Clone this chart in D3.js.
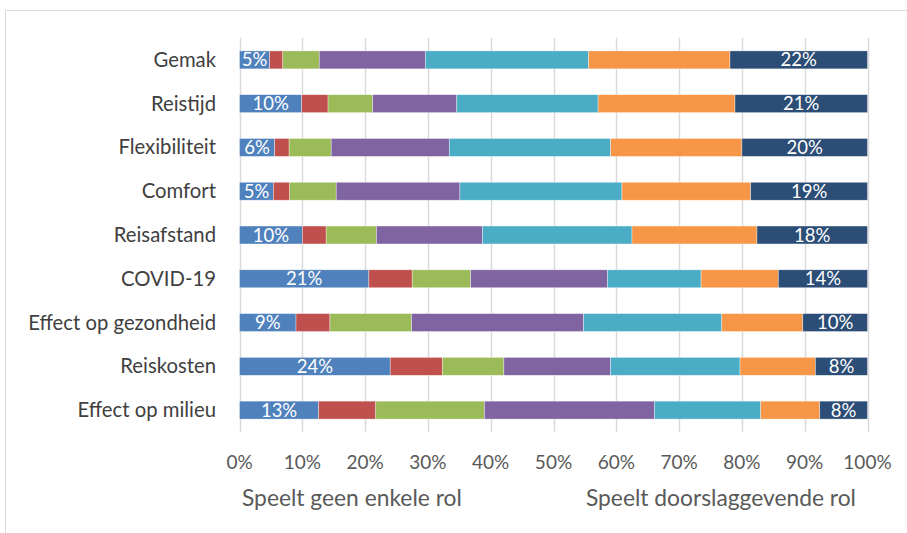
<!DOCTYPE html>
<html>
<head>
<meta charset="utf-8">
<script src="https://cdn.jsdelivr.net/npm/d3@7"></script>
<style>
  body { margin: 0; background: #fff; }
  svg { font-family: Lato, "Open Sans", sans-serif; }
</style>
</head>
<body>
<svg id="chart"></svg>
<script>
// categories top to bottom
let categories = ['Gemak', 'Reistijd', 'Flexibiliteit', 'Comfort', 'Reisafstand',
  'COVID-19', 'Effect op gezondheid', 'Reiskosten', 'Effect op milieu']
// answer scale 1 (geen rol) .. 7 (doorslaggevend), percentages per category
let s1 = [4.8, 9.9, 5.6, 5.4, 10.0, 20.6, 9.0, 24.0, 12.6]
let s2 = [2.1, 4.2, 2.3, 2.6, 3.8, 6.9, 5.4, 8.3, 9.1]
let s3 = [5.8, 7.1, 6.7, 7.4, 8.0, 9.3, 13.0, 9.8, 17.3]
let s4 = [16.9, 13.4, 18.8, 19.7, 16.9, 21.8, 27.4, 17.0, 27.1]
let s5 = [26.0, 22.5, 25.7, 25.8, 23.8, 14.9, 22.0, 20.6, 16.9]
let s6 = [22.5, 21.8, 20.9, 20.5, 19.9, 12.3, 12.9, 12.0, 9.4]
let s7 = [21.9, 21.1, 20.0, 18.6, 17.6, 14.2, 10.3, 8.3, 7.6]
let seriesKeys = ['1', '2', '3', '4', '5', '6', '7']
let seriesValues = [s1, s2, s3, s4, s5, s6, s7]
let ticks = [0, 0.1, 0.2, 0.3, 0.4, 0.5, 0.6, 0.7, 0.8, 0.9, 1]
let leftTitle = 'Speelt geen enkele rol'
let rightTitle = 'Speelt doorslaggevende rol'

let colors = ['#4f81bd', '#c0504d', '#9bbb59', '#8064a2', '#4bacc6', '#f79646', '#2c4d75']
let labelled = ['1', '7']

let width = 907
let height = 533
let svg = d3.select('#chart')
  .attr('width', width)
  .attr('height', height)

// chart frame
svg.append('rect')
  .attr('x', 5.5).attr('y', 10.5)
  .attr('width', width + 10).attr('height', height + 10)
  .attr('fill', 'none')
  .attr('stroke', '#d9d9d9')

let table = categories.map((c, i) => {
  let row = { category: c }
  seriesKeys.forEach((k, j) => { row[k] = seriesValues[j][i] })
  return row
})

let stacked = d3.stack()
  .keys(seriesKeys)
  .offset(d3.stackOffsetExpand)(table)

let x = d3.scaleLinear().domain([0, 1]).range([239.5, 867.5])
let y = d3.scaleBand().domain(categories).range([38, 432]).paddingInner(0.59).paddingOuter(0.295)

// gridlines
svg.append('g')
  .selectAll('line')
  .data(ticks)
  .enter()
  .append('line')
  .attr('x1', (d) => Math.round(x(d)) + 0.5)
  .attr('x2', (d) => Math.round(x(d)) + 0.5)
  .attr('y1', 38)
  .attr('y2', 432)
  .attr('stroke', '#d9d9d9')
  .attr('stroke-width', 1.5)

let layers = svg.append('g')
  .selectAll('g')
  .data(stacked)
  .enter()
  .append('g')
  .attr('fill', (d, i) => colors[i])

layers.selectAll('rect')
  .data((d) => d)
  .enter()
  .append('rect')
  .attr('x', (d) => x(d[0]))
  .attr('y', (d) => y(d.data.category))
  .attr('width', (d) => x(d[1]) - x(d[0]))
  .attr('height', y.bandwidth())
  .attr('stroke', 'rgba(255,255,255,0.6)')
  .attr('stroke-width', 0.6)

// data labels on the first and last series
layers.filter((d) => labelled.includes(d.key))
  .selectAll('text')
  .data((d) => d.map((p) => ({ p: p, key: d.key })))
  .enter()
  .append('text')
  .attr('x', (d) => (x(d.p[0]) + x(d.p[1])) / 2)
  .attr('y', (d) => y(d.p.data.category) + y.bandwidth() / 2 + 6.5)
  .attr('text-anchor', 'middle')
  .attr('fill', '#fff')
  .attr('font-size', 18.5)
  .text((d) => Math.round(d.p.data[d.key]) + '%')

// category labels
svg.append('g')
  .selectAll('text')
  .data(categories)
  .enter()
  .append('text')
  .attr('x', 216)
  .attr('y', (d) => y(d) + y.bandwidth() / 2 + 7)
  .attr('text-anchor', 'end')
  .attr('fill', '#404040')
  .attr('font-size', 20.3)
  .text((d) => d)

// tick labels
svg.append('g')
  .selectAll('text')
  .data(ticks)
  .enter()
  .append('text')
  .attr('x', (d) => x(d))
  .attr('y', 468.5)
  .attr('text-anchor', 'middle')
  .attr('fill', '#595959')
  .attr('font-size', 19)
  .text(d3.format('.0%'))

svg.append('text')
  .attr('x', 242).attr('y', 505.5)
  .attr('fill', '#595959').attr('font-size', 22.8)
  .text(leftTitle)
svg.append('text')
  .attr('x', 856).attr('y', 505.5)
  .attr('text-anchor', 'end')
  .attr('fill', '#595959').attr('font-size', 22.8)
  .text(rightTitle)
</script>
</body>
</html>
